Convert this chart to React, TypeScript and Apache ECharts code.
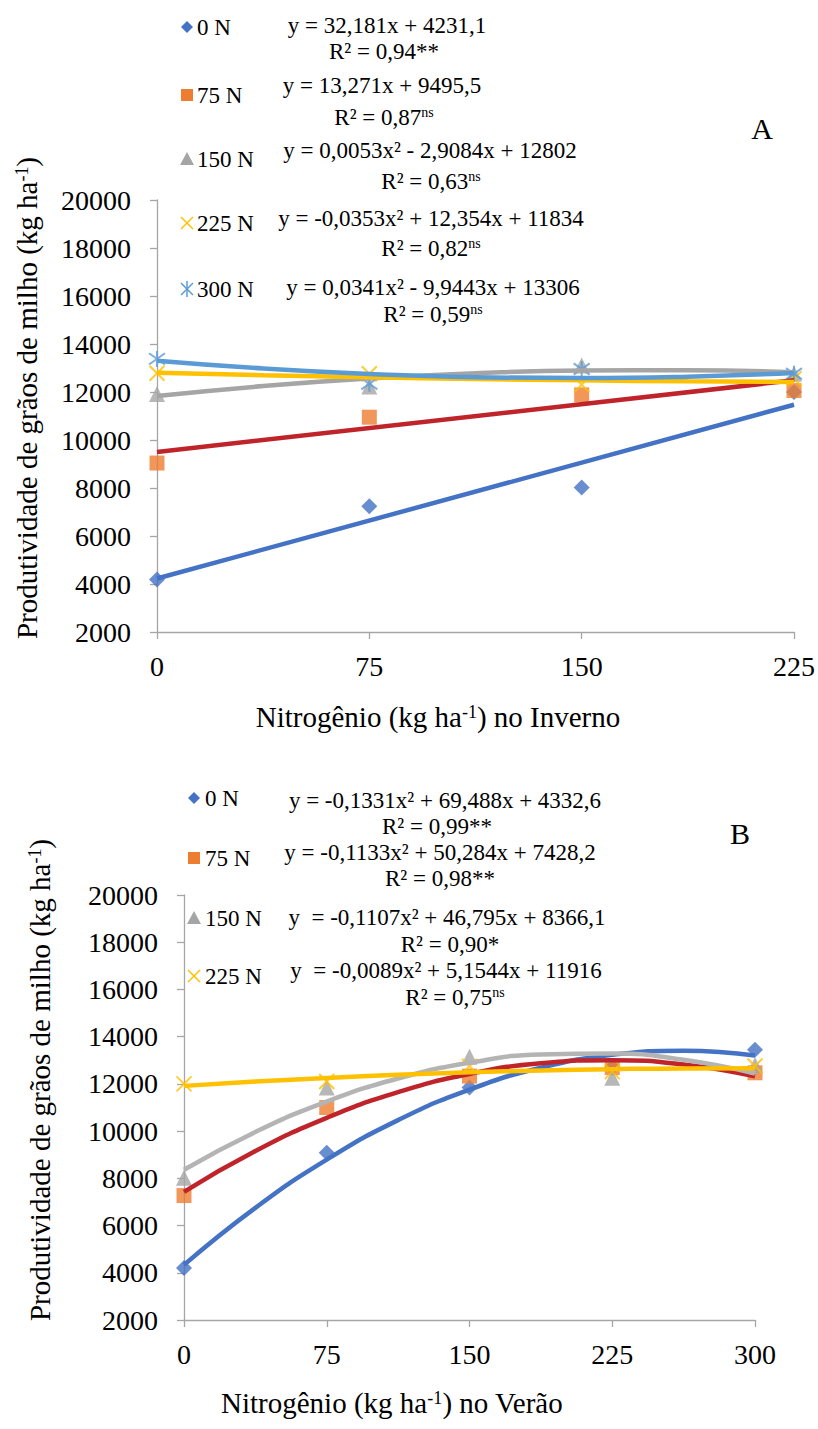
import React, { useEffect, useRef } from "react";
import * as echarts from "echarts";

const FONT = "Liberation Serif";

// ---------- Panel A (Inverno) ----------
const xA = [0, 75, 150, 225];
const yA0 = [4190, 7240, 8020, 12000];
const yA75 = [9040, 10950, 11880, 12060];
const yA150 = [11920, 12230, 13100, 12760];
const yA225 = [12780, 12760, 12300, 12550];
const yA300 = [13380, 12340, 12960, 12760];

const trendXALin = [0, 225];
const trendA0 = [4230, 11470];
const trendA75 = [9500, 12490];
const trendXA = [0, 37.5, 75, 112.5, 150, 187.5, 225];
const trendA150 = [11834, 12248, 12562, 12777, 12893, 12909, 12827];
const trendA225 = [12802, 12700, 12614, 12542, 12485, 12443, 12416];
const trendA300 = [13306, 12981, 12752, 12619, 12581, 12640, 12795];

const legendA = ["0 N", "75 N", "150 N", "225 N", "300 N"];
const eqA = [
  "y = 32,181x + 4231,1",
  "y = 13,271x + 9495,5",
  "y = 0,0053x² - 2,9084x + 12802",
  "y = -0,0353x² + 12,354x + 11834",
  "y = 0,0341x² - 9,9443x + 13306",
];
const r2A = ["0,94", "0,87", "0,63", "0,82", "0,59"];
const sigA = ["**", "ns", "ns", "ns", "ns"];

// ---------- Panel B (Verão) ----------
const xB = [0, 75, 150, 225, 300];
const yB0 = [4200, 9080, 11850, 12700, 13450];
const yB75 = [7270, 11000, 12330, 12690, 12470];
const yB150 = [8030, 11850, 13150, 12260, 12800];
const yB225 = [12000, 12100, 12750, 12520, 12760];

const trendXB = [0, 37.5, 75, 112.5, 150, 187.5, 225, 262.5, 300];
const trendB0 = [4333, 6751, 8795, 10466, 11761, 12683, 13229, 13402, 13200];
const trendB75 = [7428, 9154, 10562, 11651, 12422, 12873, 13006, 12821, 12316];
const trendB150 = [8366, 9965, 11253, 12229, 12894, 13248, 13291, 13022, 12442];
const trendB225 = [11916, 12097, 12252, 12383, 12489, 12570, 12625, 12656, 12661];

const legendB = ["0 N", "75 N", "150 N", "225 N"];
const eqB = [
  "y = -0,1331x² + 69,488x + 4332,6",
  "y = -0,1133x² + 50,284x + 7428,2",
  "y  = -0,1107x² + 46,795x + 8366,1",
  "y  = -0,0089x² + 5,1544x + 11916",
];
const r2B = ["0,99", "0,98", "0,90", "0,75"];
const sigB = ["**", "**", "*", "ns"];

const Y_MIN = 2000;
const Y_MAX = 20000;
const Y_STEP = 2000;

const C_BLUE = "#4472C4";
const C_ORANGE = "#ED7D31";
const C_GRAY = "#A5A5A5";
const C_YELLOW = "#FFC000";
const C_LBLUE = "#5B9BD5";
const C_RED = "#C0242B";
const AXIS_C = "#A6A6A6";

const SYM_X = "path://M0,0L10,10M10,0L0,10";
const SYM_STAR = "path://M1.5,1.5L8.5,8.5M8.5,1.5L1.5,8.5M5,0L5,10";

const zip = (xs: number[], ys: number[]) => xs.map((x, i) => [x, ys[i]]);

function scatter(idx: number, xs: number[], ys: number[], kind: string, color: string) {
  const base: any = {
    type: "scatter",
    xAxisIndex: idx,
    yAxisIndex: idx,
    data: zip(xs, ys),
    z: 2,
    silent: true,
  };
  if (kind === "diamond") return { ...base, symbol: "diamond", symbolSize: 16, itemStyle: { color } };
  if (kind === "square") return { ...base, symbol: "rect", symbolSize: 15, itemStyle: { color } };
  if (kind === "triangle") return { ...base, symbol: "triangle", symbolSize: 16, itemStyle: { color } };
  if (kind === "x")
    return { ...base, symbol: SYM_X, symbolSize: 15, itemStyle: { color: "none", borderColor: color, borderWidth: 2 } };
  return { ...base, symbol: SYM_STAR, symbolSize: 16, itemStyle: { color: "none", borderColor: color, borderWidth: 2 } };
}

function trend(idx: number, xs: number[], ys: number[], color: string, smooth: boolean) {
  return {
    type: "line",
    xAxisIndex: idx,
    yAxisIndex: idx,
    data: zip(xs, ys),
    symbol: "none",
    showSymbol: false,
    smooth,
    lineStyle: { color, width: 4.5 },
    z: 3,
    silent: true,
  };
}

function marker(kind: string, cx: number, cy: number, color: string): any {
  const s = 6;
  if (kind === "diamond")
    return { type: "polygon", shape: { points: [[cx, cy - s], [cx + s, cy], [cx, cy + s], [cx - s, cy]] }, style: { fill: color } };
  if (kind === "square")
    return { type: "rect", shape: { x: cx - 6, y: cy - 6, width: 12, height: 12 }, style: { fill: color } };
  if (kind === "triangle")
    return { type: "polygon", shape: { points: [[cx, cy - 7], [cx + 7, cy + 6], [cx - 7, cy + 6]] }, style: { fill: color } };
  const lines: any[] = [
    { type: "line", shape: { x1: cx - 6, y1: cy - 6, x2: cx + 6, y2: cy + 6 }, style: { stroke: color, lineWidth: 1.5 } },
    { type: "line", shape: { x1: cx + 6, y1: cy - 6, x2: cx - 6, y2: cy + 6 }, style: { stroke: color, lineWidth: 1.5 } },
  ];
  if (kind === "star")
    lines.push({ type: "line", shape: { x1: cx, y1: cy - 8, x2: cx, y2: cy + 8 }, style: { stroke: color, lineWidth: 1.5 } });
  return { type: "group", children: lines };
}

const LEG_FS = 23;

function text(x: number, y: number, content: string, opts: any = {}): any {
  const fs = opts.fontSize || LEG_FS;
  return {
    type: "text",
    x,
    y,
    rotation: opts.rotation || 0,
    style: {
      text: content,
      fontFamily: FONT,
      fontSize: fs,
      fill: "#000",
      align: opts.align || "center",
      textAlign: opts.align || "center",
      verticalAlign: "middle",
      textVerticalAlign: "middle",
      rich: {
        s: { fontFamily: FONT, fontSize: Math.round(fs * 0.62), verticalAlign: "top", fill: "#000" },
        n: { fontFamily: FONT, fontSize: fs, fill: "#000" },
      },
    },
  };
}

function r2Text(r: string, sig: string) {
  if (sig === "ns") return "{n|R² = " + r + "}{s|ns}";
  return "{n|R² = " + r + sig + "}";
}

function axisCommon() {
  return {
    axisLine: { show: true, lineStyle: { color: AXIS_C, width: 1.3 } },
    axisTick: { show: true, length: 7, lineStyle: { color: AXIS_C, width: 1.3 } },
    splitLine: { show: false },
  };
}

export default function App() {
  const ref = useRef<HTMLDivElement>(null);

  useEffect(() => {
    if (!ref.current) return;
    const chart = echarts.init(ref.current, undefined, { renderer: "svg" });

    const kindsA = ["diamond", "square", "triangle", "x", "star"];
    const colsA = [C_BLUE, C_ORANGE, C_GRAY, C_YELLOW, C_LBLUE];

    const legYA = [27, 95, 159, 223, 289];
    const eqPosA = [[387, 25], [382, 85], [430, 150], [431, 218], [433, 287]];
    const r2PosA = [[384, 51], [384, 117], [431, 181], [431, 248], [433, 314]];

    const legYB = [798, 858, 918, 976];
    const eqPosB = [[445, 800], [440, 852], [447, 917], [446, 970]];
    const r2PosB = [[437, 826], [440, 878], [450, 944], [455, 997]];

    const graphics: any[] = [];
    legendA.forEach((name, i) => {
      graphics.push(marker(kindsA[i], 187, legYA[i], colsA[i]));
      graphics.push(text(197, legYA[i], "{n|" + name + "}", { align: "left" }));
      graphics.push(text(eqPosA[i][0], eqPosA[i][1], "{n|" + eqA[i] + "}"));
      graphics.push(text(r2PosA[i][0], r2PosA[i][1], r2Text(r2A[i], sigA[i])));
    });
    legendB.forEach((name, i) => {
      graphics.push(marker(kindsA[i], 194, legYB[i], colsA[i]));
      graphics.push(text(205, legYB[i], "{n|" + name + "}", { align: "left" }));
      graphics.push(text(eqPosB[i][0], eqPosB[i][1], "{n|" + eqB[i] + "}"));
      graphics.push(text(r2PosB[i][0], r2PosB[i][1], r2Text(r2B[i], sigB[i])));
    });

    graphics.push(text(762, 128, "{n|A}", { fontSize: 30 }));
    graphics.push(text(740, 833, "{n|B}", { fontSize: 30 }));

    const yName = "{n|Produtividade de grãos de milho (kg ha}{s|-1}{n|)}";
    graphics.push(text(27, 398, yName, { fontSize: 29, rotation: Math.PI / 2 }));
    graphics.push(text(40, 1080, yName, { fontSize: 29, rotation: Math.PI / 2 }));
    graphics.push(text(438, 717, "{n|Nitrogênio (kg ha}{s|-1}{n|) no Inverno}", { fontSize: 29 }));
    graphics.push(text(392, 1403, "{n|Nitrogênio (kg ha}{s|-1}{n|) no Verão}", { fontSize: 29 }));

    const labelStyle = { fontFamily: FONT, fontSize: 28, color: "#000", formatter: (v: number) => String(v) };

    chart.setOption({
      animation: false,
      backgroundColor: "#fff",
      textStyle: { fontFamily: FONT },
      grid: [
        { left: 157, top: 200, width: 637, height: 432, containLabel: false },
        { left: 184, top: 895, width: 571, height: 425, containLabel: false },
      ],
      xAxis: [
        { gridIndex: 0, type: "value", min: 0, max: 225, interval: 75, ...axisCommon(), axisLabel: { ...labelStyle, margin: 20 } },
        { gridIndex: 1, type: "value", min: 0, max: 300, interval: 75, ...axisCommon(), axisLabel: { ...labelStyle, margin: 20 } },
      ],
      yAxis: [
        { gridIndex: 0, type: "value", min: Y_MIN, max: Y_MAX, interval: Y_STEP, ...axisCommon(), axisLabel: { ...labelStyle, margin: 26 } },
        { gridIndex: 1, type: "value", min: Y_MIN, max: Y_MAX, interval: Y_STEP, ...axisCommon(), axisLabel: { ...labelStyle, margin: 26 } },
      ],
      series: [
        scatter(0, xA, yA0, "diamond", C_BLUE),
        scatter(0, xA, yA75, "square", C_ORANGE),
        scatter(0, xA, yA150, "triangle", C_GRAY),
        scatter(0, xA, yA225, "x", C_YELLOW),
        scatter(0, xA, yA300, "star", C_LBLUE),
        trend(0, trendXALin, trendA0, C_BLUE, false),
        trend(0, trendXALin, trendA75, C_RED, false),
        trend(0, trendXA, trendA150, C_GRAY, true),
        trend(0, trendXA, trendA225, C_YELLOW, true),
        trend(0, trendXA, trendA300, C_LBLUE, true),
        scatter(1, xB, yB0, "diamond", C_BLUE),
        scatter(1, xB, yB75, "square", C_ORANGE),
        scatter(1, xB, yB150, "triangle", C_GRAY),
        scatter(1, xB, yB225, "x", C_YELLOW),
        trend(1, trendXB, trendB0, C_BLUE, true),
        trend(1, trendXB, trendB75, C_RED, true),
        trend(1, trendXB, trendB150, "#B4B4B4", true),
        trend(1, trendXB, trendB225, C_YELLOW, true),
      ],
      graphic: { elements: graphics },
    });

    return () => chart.dispose();
  }, []);

  return (
    <div
      ref={ref}
      style={{ position: "absolute", left: 0, top: 0, width: 818, height: 1429, background: "#fff" }}
    />
  );
}
